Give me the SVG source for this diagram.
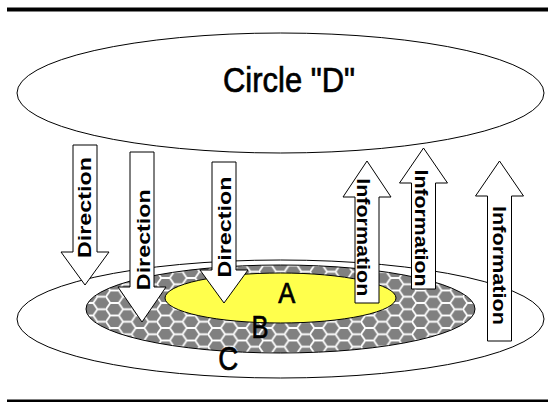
<svg xmlns="http://www.w3.org/2000/svg" width="548" height="402" viewBox="0 0 548 402">
<style>
.ln{stroke:#000;stroke-width:1}
.arrow{fill:#fff;stroke:#000;stroke-width:1;stroke-linejoin:miter}
.atxt{font-family:"Liberation Sans",Arial,sans-serif;font-weight:bold;font-size:19px;fill:#000;text-anchor:middle}
.lbl{font-family:"Liberation Sans",Arial,sans-serif;fill:#000;stroke:#000;stroke-width:0.7;text-anchor:middle}
</style>
<defs>
<pattern id="hex" patternUnits="userSpaceOnUse" x="4" y="3" width="25.5" height="12.5">
<rect width="25.5" height="12.5" fill="#808080"/>
<path d="M0,6.25 L4.25,0 L12.75,0 L17,6.25 L12.75,12.5 L4.25,12.5 Z M17,6.25 L25.5,6.25" fill="none" stroke="#fff" stroke-width="1.8"/>
</pattern>
</defs>
<rect x="7" y="7.5" width="541" height="4" fill="#000"/>
<rect x="7" y="399.5" width="541" height="4" fill="#000"/>
<g id="circleD">
<ellipse cx="280.5" cy="93" rx="263.5" ry="60" fill="#fff" class="ln"/>
<text class="lbl" x="289" y="92" font-size="35" textLength="132" lengthAdjust="spacingAndGlyphs">Circle "D"</text>
</g>
<g id="circleC">
<ellipse cx="280.5" cy="319" rx="263.5" ry="59" fill="#fff" class="ln"/>
</g>
<g id="circleB">
<ellipse cx="280.5" cy="309" rx="194.5" ry="44" fill="url(#hex)" class="ln"/>
</g>
<g id="circleA">
<ellipse cx="280.5" cy="298" rx="115.5" ry="25" fill="#ffff4c" class="ln"/>
</g>
<g id="connectors">
<g id="dir1"><polygon class="arrow" points="73,145 97,145 97,252 109,252 85,285 61,252 73,252"/>
<text class="atxt" transform="translate(91,207.5) rotate(-90)" textLength="101" lengthAdjust="spacingAndGlyphs">Direction</text></g>
<g id="dir2"><polygon class="arrow" points="130,152 154,152 154,287 166,287 142,322 118,287 130,287"/>
<text class="atxt" transform="translate(150,239.7) rotate(-90)" textLength="101" lengthAdjust="spacingAndGlyphs">Direction</text></g>
<g id="dir3"><polygon class="arrow" points="212,162 236,162 236,270 248,270 224,303 200,270 212,270"/>
<text class="atxt" transform="translate(230.5,227) rotate(-90)" textLength="101" lengthAdjust="spacingAndGlyphs">Direction</text></g>
<g id="info1"><polygon class="arrow" points="367,161 391,197 379,197 379,303 355,303 355,197 343,197"/>
<text class="atxt" transform="translate(357.3,237.3) rotate(90)" textLength="118" lengthAdjust="spacingAndGlyphs">Information</text></g>
<g id="info2"><polygon class="arrow" points="423.5,148 447.5,183 435.5,183 435.5,289 411.5,289 411.5,183 399.5,183"/>
<text class="atxt" transform="translate(415,228) rotate(90)" textLength="117" lengthAdjust="spacingAndGlyphs">Information</text></g>
<g id="info3"><polygon class="arrow" points="499.5,161 523.5,196 511.5,196 511.5,341 487.5,341 487.5,196 475.5,196"/>
<text class="atxt" transform="translate(493.3,265.5) rotate(90)" textLength="119" lengthAdjust="spacingAndGlyphs">Information</text></g>
</g>
<g id="labels">
<text class="lbl" x="286.7" y="303.3" font-size="30" textLength="17" lengthAdjust="spacingAndGlyphs">A</text>
<text class="lbl" x="260" y="338.3" font-size="32" textLength="17" lengthAdjust="spacingAndGlyphs">B</text>
<text class="lbl" x="228.3" y="370" font-size="34" textLength="20" lengthAdjust="spacingAndGlyphs">C</text>
</g>
</svg>
